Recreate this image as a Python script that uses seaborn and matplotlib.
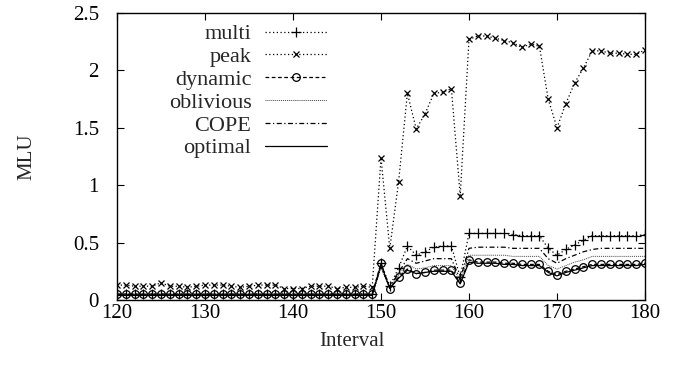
import pandas as pd
import matplotlib
matplotlib.use("Agg")
import matplotlib.pyplot as plt
import seaborn as sns

intervals = list(range(120, 181))

multi = [0.05, 0.05, 0.05, 0.05, 0.05, 0.05, 0.05, 0.05, 0.05, 0.05,
         0.05, 0.05, 0.05, 0.05, 0.05, 0.05, 0.05, 0.05, 0.05, 0.05,
         0.05, 0.05, 0.05, 0.05, 0.05, 0.05, 0.05, 0.05, 0.05, 0.05,
         0.32, 0.12, 0.28, 0.47, 0.39, 0.42, 0.46, 0.47, 0.47, 0.20,
         0.58, 0.58, 0.58, 0.58, 0.58, 0.57, 0.56, 0.56, 0.56, 0.45,
         0.39, 0.44, 0.48, 0.52, 0.56, 0.56, 0.56, 0.56, 0.56, 0.56, 0.57]
peak = [0.13, 0.13, 0.12, 0.12, 0.12, 0.15, 0.12, 0.12, 0.11, 0.12,
        0.13, 0.13, 0.13, 0.12, 0.11, 0.12, 0.13, 0.13, 0.13, 0.10,
        0.10, 0.10, 0.12, 0.12, 0.12, 0.10, 0.11, 0.11, 0.12, 0.11,
        1.24, 0.45, 1.03, 1.80, 1.49, 1.62, 1.80, 1.81, 1.84, 0.91,
        2.27, 2.30, 2.30, 2.28, 2.26, 2.24, 2.20, 2.23, 2.21, 1.75,
        1.50, 1.71, 1.89, 2.02, 2.17, 2.17, 2.15, 2.15, 2.14, 2.14, 2.18]
dynamic = [0.05, 0.05, 0.05, 0.05, 0.05, 0.05, 0.05, 0.05, 0.05, 0.05,
           0.05, 0.05, 0.05, 0.05, 0.05, 0.05, 0.05, 0.05, 0.05, 0.05,
           0.05, 0.05, 0.05, 0.05, 0.05, 0.05, 0.05, 0.05, 0.05, 0.05,
           0.32, 0.10, 0.20, 0.27, 0.23, 0.24, 0.26, 0.26, 0.26, 0.15,
           0.35, 0.33, 0.33, 0.33, 0.32, 0.32, 0.31, 0.31, 0.31, 0.25,
           0.22, 0.25, 0.27, 0.29, 0.31, 0.31, 0.31, 0.31, 0.31, 0.31, 0.32]
oblivious = [0.05, 0.05, 0.05, 0.05, 0.05, 0.05, 0.05, 0.05, 0.05, 0.05,
             0.05, 0.05, 0.05, 0.05, 0.05, 0.05, 0.05, 0.05, 0.05, 0.05,
             0.05, 0.05, 0.05, 0.05, 0.05, 0.05, 0.05, 0.05, 0.05, 0.05,
             0.28, 0.10, 0.22, 0.31, 0.27, 0.28, 0.30, 0.30, 0.30, 0.17,
             0.39, 0.39, 0.39, 0.39, 0.39, 0.38, 0.38, 0.38, 0.38, 0.30,
             0.27, 0.30, 0.33, 0.35, 0.38, 0.38, 0.38, 0.38, 0.38, 0.38, 0.38]
cope = [0.05, 0.05, 0.05, 0.05, 0.05, 0.05, 0.05, 0.05, 0.05, 0.05,
        0.05, 0.05, 0.05, 0.05, 0.05, 0.05, 0.05, 0.05, 0.05, 0.05,
        0.05, 0.05, 0.05, 0.05, 0.05, 0.05, 0.05, 0.05, 0.05, 0.05,
        0.29, 0.11, 0.24, 0.36, 0.32, 0.34, 0.36, 0.36, 0.36, 0.18,
        0.45, 0.46, 0.46, 0.46, 0.46, 0.45, 0.45, 0.45, 0.45, 0.36,
        0.32, 0.36, 0.39, 0.42, 0.44, 0.45, 0.45, 0.45, 0.45, 0.45, 0.45]
optimal = [0.04, 0.04, 0.04, 0.04, 0.04, 0.04, 0.04, 0.04, 0.04, 0.04,
           0.04, 0.04, 0.04, 0.04, 0.04, 0.04, 0.04, 0.04, 0.04, 0.04,
           0.04, 0.04, 0.04, 0.04, 0.04, 0.04, 0.04, 0.04, 0.04, 0.04,
           0.31, 0.10, 0.19, 0.26, 0.23, 0.24, 0.25, 0.25, 0.25, 0.14,
           0.33, 0.32, 0.32, 0.32, 0.31, 0.31, 0.30, 0.30, 0.30, 0.24,
           0.21, 0.24, 0.26, 0.28, 0.30, 0.30, 0.30, 0.30, 0.30, 0.30, 0.31]

series = {
    "multi": multi,
    "peak": peak,
    "dynamic": dynamic,
    "oblivious": oblivious,
    "COPE": cope,
    "optimal": optimal,
}

# gnuplot-ish line styles: (dash pattern, marker, marker size, face, colour, width)
styles = {
    "multi": ((0, (1, 2)), "+", 7, "black", "black", 0.9),
    "peak": ((0, (1, 2)), "x", 5, "black", "black", 0.9),
    "dynamic": ((0, (3, 2)), "o", 5.5, "none", "black", 0.9),
    "oblivious": ((0, (1, 1)), "None", 0, "none", "#444444", 0.7),
    "COPE": ((0, (4, 2, 1, 2)), "None", 0, "none", "black", 0.9),
    "optimal": ("-", "None", 0, "none", "black", 0.9),
}

sns.set_style("ticks")
plt.rcParams["font.family"] = ["Liberation Serif", "DejaVu Serif"]

fig = plt.figure(figsize=(6.78, 3.68), dpi=100)
ax = fig.add_axes([117 / 678, 1 - 300 / 368, 528 / 678, 287 / 368])

for name, values in series.items():
    df = pd.DataFrame({"Interval": intervals, "MLU": values})
    ls, mk, ms, mfc, col, lw = styles[name]
    sns.lineplot(data=df, x="Interval", y="MLU", ax=ax, label=name,
                 color=col, linewidth=lw)
    line = ax.lines[-1]
    line.set_linestyle(ls)
    line.set_marker(mk)
    line.set_markersize(ms)
    line.set_markerfacecolor(mfc)
    line.set_markeredgecolor(col)
    line.set_markeredgewidth(0.9)

ax.set_xlim(120, 180)
ax.set_ylim(0, 2.5)
ax.set_xticks([120, 130, 140, 150, 160, 170, 180])
ax.set_yticks([0, 0.5, 1, 1.5, 2, 2.5])
ax.set_yticklabels(["0", "0.5", "1", "1.5", "2", "2.5"])
ax.tick_params(direction="in", length=5, width=0.8, top=True, right=True,
               labelsize=15, colors="black")
ax.tick_params(axis="y", pad=13)
ax.tick_params(axis="x", pad=3)
for s in ax.spines.values():
    s.set_visible(True)
    s.set_linewidth(1.0)
    s.set_color("black")

ax.set_xlabel("Interval", fontsize=15)
ax.set_ylabel("MLU", fontsize=15)
ax.xaxis.set_label_coords(0.445, -0.112)
ax.yaxis.set_label_coords(-0.153, 0.5)

ax.legend(loc="upper left", bbox_to_anchor=(0.098, 0.962), frameon=False,
          markerfirst=False, numpoints=1, fontsize=16, handlelength=2.8,
          handletextpad=0.6, labelspacing=0.1, borderpad=0, borderaxespad=0)

fig.savefig("out.png", dpi=100)
